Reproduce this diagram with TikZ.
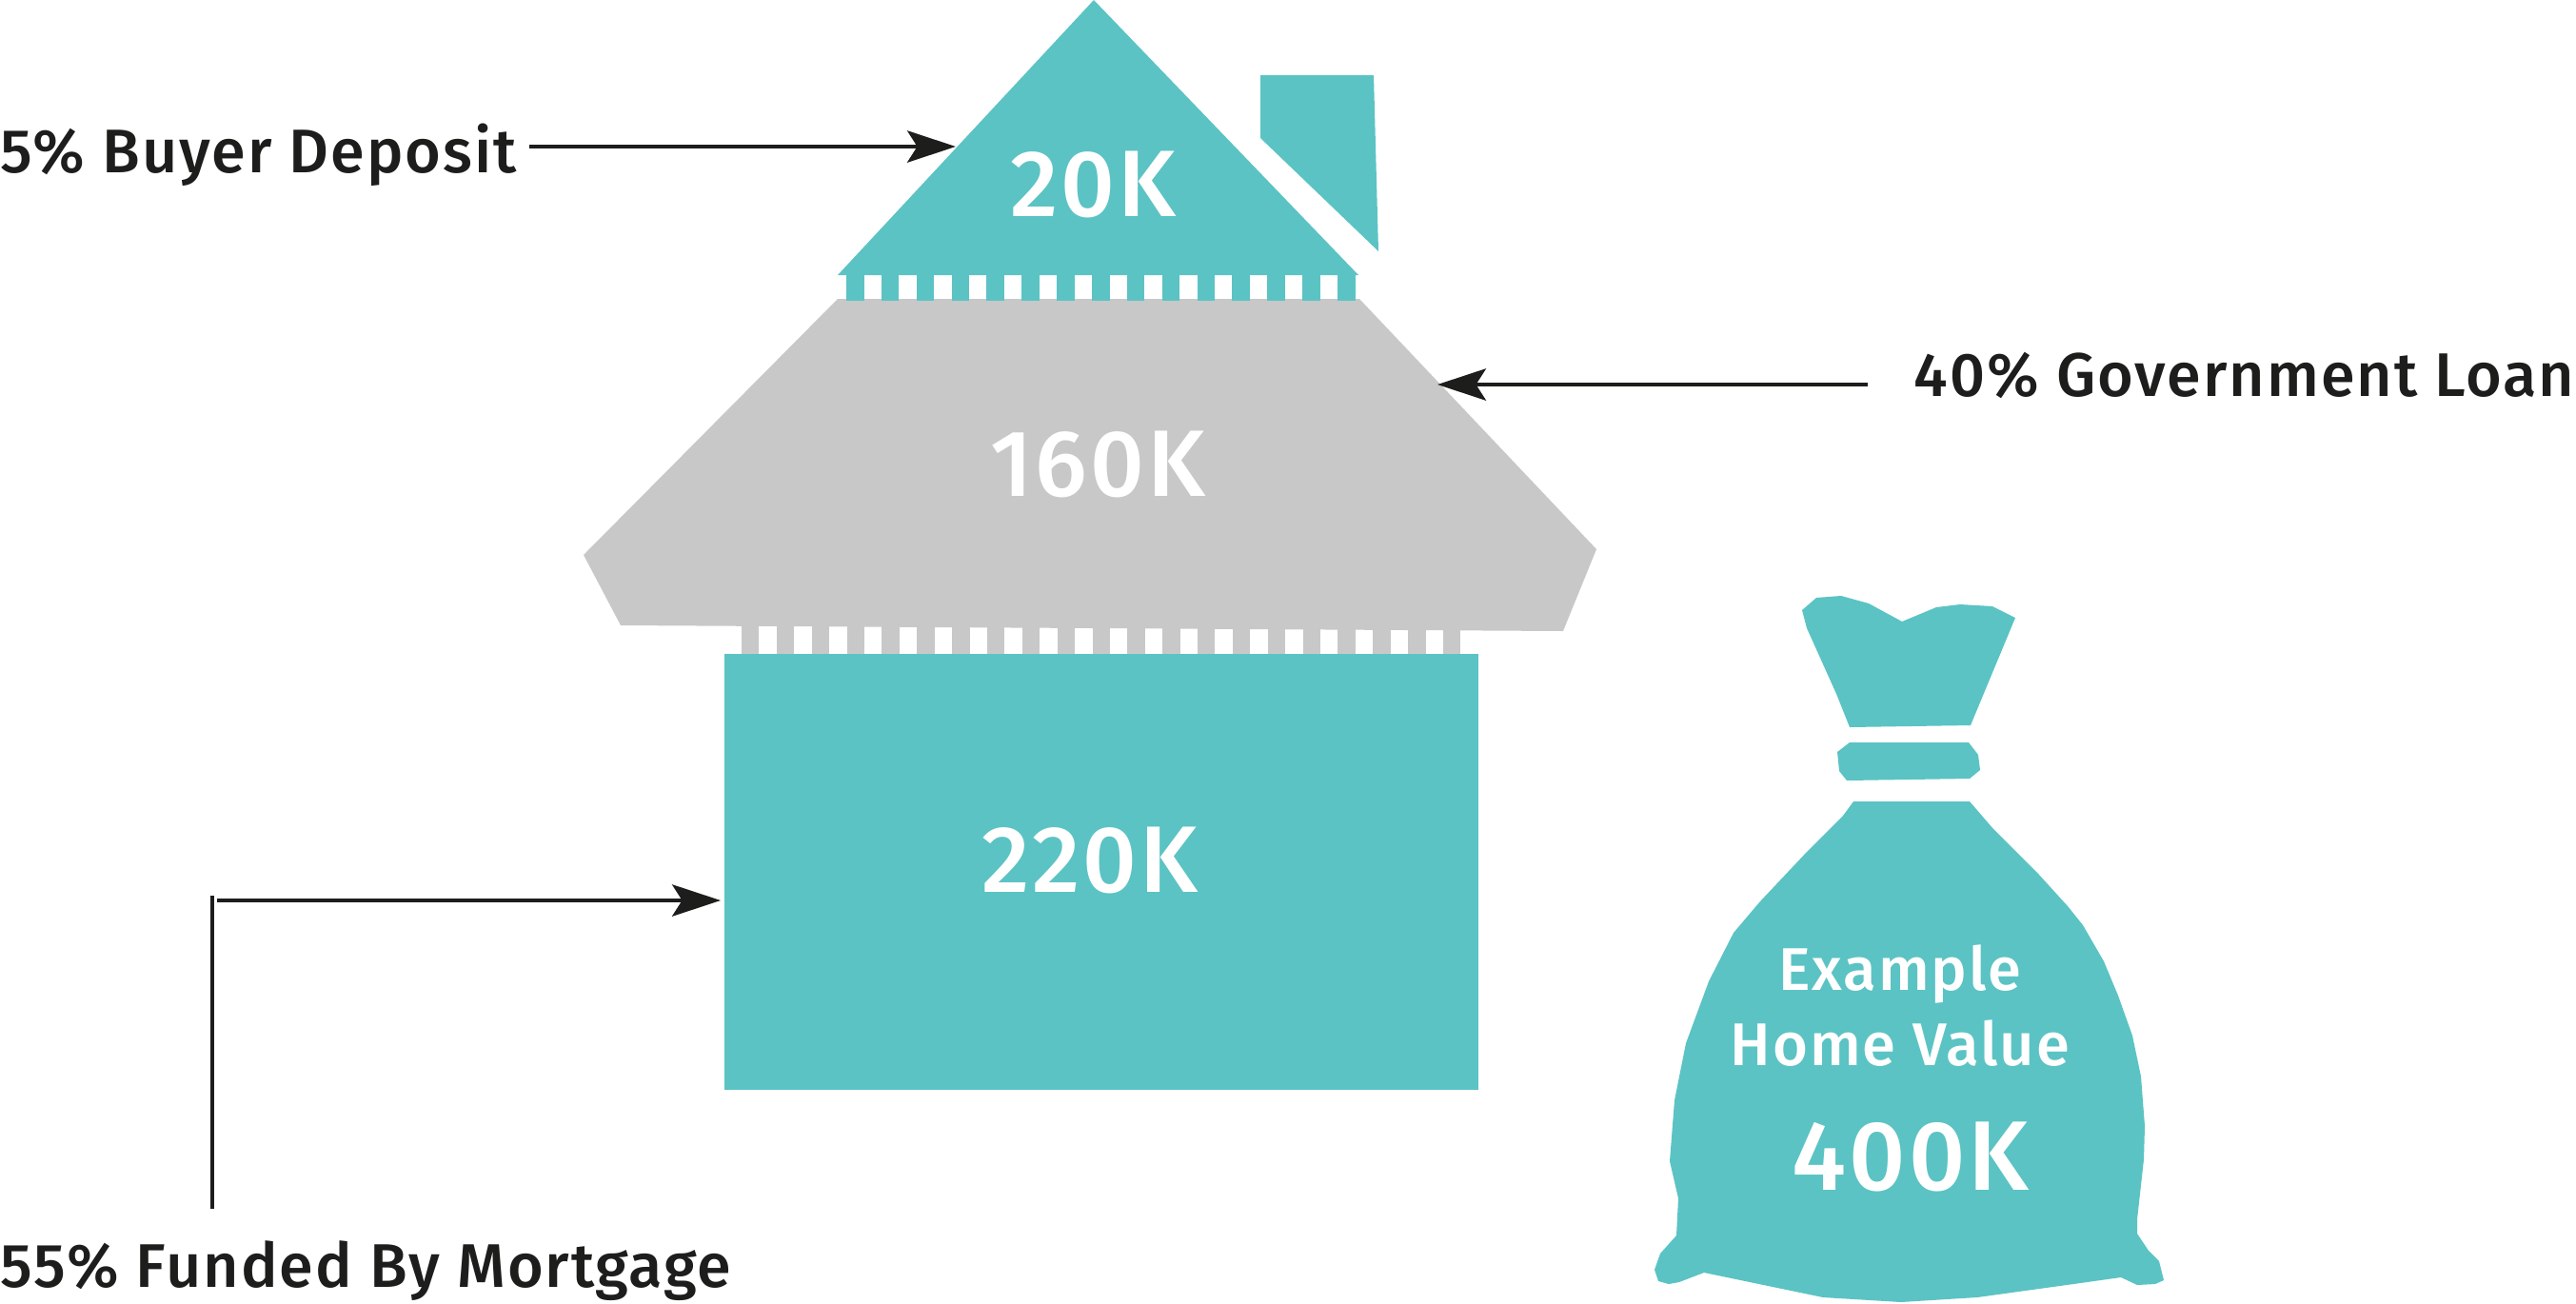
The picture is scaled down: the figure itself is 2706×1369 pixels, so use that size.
\documentclass[tikz,border=0pt]{standalone}
\usepackage{fontspec}
\setmainfont[LetterSpace=3,BoldFont={Fira Sans Medium}]{Fira Sans}
\usepackage{xcolor}
\usetikzlibrary{arrows.meta}
\definecolor{tealfill}{HTML}{5BC3C4}
\definecolor{greyfill}{HTML}{C8C8C8}
\definecolor{inktext}{HTML}{1D1D1B}
\tikzset{
  lbl/.style={anchor=base west,inner sep=0pt,text=inktext,font=\fontsize{18.4}{20}\selectfont\bfseries},
  amount/.style={anchor=base,inner sep=0pt,text=white,font=\fontsize{28.2}{30}\selectfont\bfseries},
  bagtext/.style={anchor=base,inner sep=0pt,text=white,font=\fontsize{18}{20}\selectfont\bfseries},
  pointer/.style={inktext,line width=1pt,-{Stealth[length=14.5pt,width=9.5pt,inset=3pt]}}
}
\begin{document}
\begin{tikzpicture}[x=0.01cm,y=-0.01cm]
\useasboundingbox (0,0) rectangle (2706,1369);
% roof and chimney
\fill[tealfill] (1149,0) -- (1427,289) -- (880,289) -- cycle;
\fill[tealfill] (1324,79) -- (1443,79) -- (1448,264) -- (1324,145) -- cycle;
% upper floor
\fill[greyfill] (880,314) -- (1428,314) -- (1677,577) -- (1642,663) -- (652,657) -- (613,583) -- cycle;
% teeth under the roof and the upper floor
\foreach \i in {0,...,14}
  {\fill[tealfill] ({889+36.85*\i},288) rectangle ++(18.6,28);}
\foreach \i in {0,...,20}
  {\fill[greyfill] ({779+36.85*\i},655) rectangle ++(18.4,33);}
% ground floor
\fill[tealfill] (761,687) rectangle (1553,1145);
% bag
\fill[tealfill] (1893,641) -- (1908,628) -- (1934,626) -- (1963,634) -- (1998,653) -- (2034,638)
  -- (2059,635) -- (2093,637) -- (2117,649) -- (2070,762) -- (1943,764) -- (1929,729) -- (1898,660) -- cycle;
\fill[tealfill] (1943,780) -- (2068,780) -- (2078,793) -- (2080,809) -- (2069,818) -- (1940,820)
  -- (1932,810) -- (1930,790) -- cycle;
\fill[tealfill] (1947,842) -- (2069,842) -- (2094,871) -- (2142,919) -- (2172,952) -- (2188,972)
  -- (2210,1010) -- (2225,1046) -- (2240,1088) -- (2249,1131) -- (2253,1183) -- (2252,1218)
  -- (2245,1281) -- (2245,1296) -- (2257,1314) -- (2268,1325) -- (2273,1345) -- (2264,1349)
  -- (2245,1350) -- (2228,1342) -- (2171,1350) -- (2077,1363) -- (1997,1368) -- (1915,1363)
  -- (1790,1337) -- (1764,1347) -- (1753,1349) -- (1742,1346) -- (1738,1334) -- (1744,1317)
  -- (1761,1298) -- (1763,1259) -- (1754,1220) -- (1759,1156) -- (1771,1096) -- (1795,1031)
  -- (1821,980) -- (1849,947) -- (1898,895) -- (1936,857) -- cycle;
% amounts
\node[amount] (roofval) at (1148,227) {20K};
\node[amount] (floorval) at (1153,521) {160K};
\node[amount] (groundval) at (1145,937) {220K};
\node[bagtext] (bagone) at (1996,1040) {Example};
\node[bagtext] (bagtwo) at (1996,1119) {Home Value};
\node[amount,font=\fontsize{29.5}{30}\selectfont\bfseries] (bagval) at (2007,1250) {400K};
% labels
\node[lbl] (deposit) at (0,181) {5\% Buyer Deposit};
\node[lbl] (loan) at (2010,416) {40\% Government Loan};
\node[lbl] (mortgage) at (0,1352) {55\% Funded By Mortgage};
% pointers
\coordinate (depositfrom) at (556,154); \coordinate (deposittip) at (1004,154);
\coordinate (loanfrom) at (1962,404); \coordinate (loantip) at (1510,404);
\coordinate (mortfrom) at (228,946); \coordinate (morttip) at (757,946);
\coordinate (riserlow) at (223,1270); \coordinate (risertop) at (223,941);
\draw[pointer] (depositfrom) -- (deposittip);
\draw[pointer] (loanfrom) -- (loantip);
\draw[pointer] (mortfrom) -- (morttip);
\draw[inktext,line width=0.9pt] (riserlow) -- (risertop);
\end{tikzpicture}
\end{document}
